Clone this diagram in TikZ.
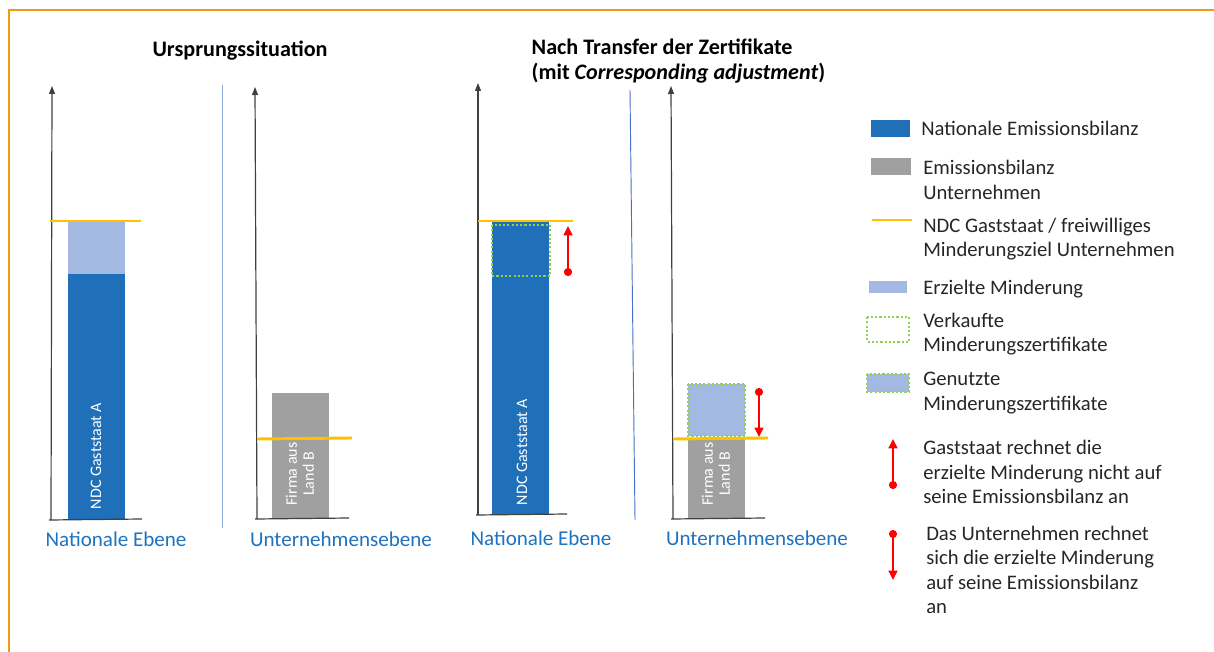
\documentclass[tikz,border=0pt]{standalone}
\usepackage{fontspec}
\setmainfont{Carlito}
\usetikzlibrary{arrows.meta}
\definecolor{nblau}{RGB}{31,112,184}
\definecolor{ugrau}{RGB}{160,160,160}
\definecolor{ndcgelb}{RGB}{255,192,0}
\definecolor{rahmen}{RGB}{240,155,20}
\definecolor{schraff}{RGB}{164,185,226}
\definecolor{zgruen}{RGB}{146,208,80}
\definecolor{achse}{RGB}{64,64,64}
\definecolor{trenn}{RGB}{68,114,196}
\definecolor{ebenetext}{RGB}{31,114,192}
\definecolor{legtext}{RGB}{38,38,38}
\tikzset{
  achsenpfeil/.style={achse, line width=0.9pt, -{Triangle[length=6pt,width=4.5pt]}},
  ndclinie/.style={ndcgelb, line width=2.2pt},
  zertrand/.style={zgruen, line width=1.6pt, dash pattern=on 1.6pt off 1.6pt},
  anrechnung/.style={red, line width=1.9pt, {Circle[length=6pt]}-{Triangle[length=7pt,width=6.5pt]}},
  balkentext/.style={white, rotate=90, align=center, font=\fontsize{12}{12.8}\selectfont},
  ebenelabel/.style={ebenetext, font=\fontsize{15.8}{18}\selectfont},
  legtxt/.style={legtext, anchor=west, align=left, inner sep=0pt, font=\fontsize{15.5}{18.4}\selectfont},
  titel/.style={font=\fontsize{16.6}{18.4}\selectfont\bfseries}
}
\begin{document}
\begin{tikzpicture}[x=0.75pt, y=-0.75pt]
\useasboundingbox (0,0) rectangle (1214,652);
% Rahmen
\draw[rahmen, line width=1.6pt] (9,652) -- (9,10) -- (1216,10);

% Titel
\node[titel] (titel1) at (240,51) {Ursprungssituation};
\node[titel, anchor=west, align=left] (titel2) at (527,61)
  {Nach Transfer der Zertifikate\\(mit \textit{Corresponding adjustment})};

% Balken
\fill[schraff] (68,221) rectangle (125,274);
\fill[nblau] (68,274) rectangle (125,520);
\fill[ugrau] (272,393) rectangle (329,519);
\fill[nblau] (492,221) rectangle (549,515);
\draw[zertrand] (492,225) rectangle (550,276);
\fill[ugrau] (688,439) rectangle (745,519);
\fill[schraff] (688,384) rectangle (745,436);
\draw[zertrand] (688,384) rectangle (745,436);

\node[balkentext] (ndcA1) at (96,456) {NDC Gaststaat A};
\node[balkentext] (ndcA2) at (522,452) {NDC Gaststaat A};
\node[balkentext] (firmaB1) at (300,474) {Firma aus\\Land B};
\node[balkentext] (firmaB2) at (716,474) {Firma aus\\Land B};

% Achsen
\foreach \xu/\xo/\yu/\yo/\xr in {51/52/520/86/142, 257/255/519/87/349, 478/478/515/83/567, 673/671/519/86/765}{
  \draw[achse, line width=0.9pt] (\xu-2,\yu) -- (\xr,\yu-1);
  \draw[achsenpfeil] (\xu,\yu) -- (\xo,\yo);
}

% NDC-Linien
\draw[ndclinie] (50,221) -- (141,221);
\draw[ndclinie] (257,439) -- (352,438);
\draw[ndclinie] (478,221) -- (573,221);
\draw[ndclinie] (673,439) -- (768,438);

% Trennlinien
\draw[trenn!60, line width=0.7pt] (222,85) -- (222,528);
\draw[trenn, line width=0.7pt] (630,90) -- (635,520);

% Anrechnung
\coordinate (p3unten) at (568,276);
\coordinate (p3oben) at (568,226);
\coordinate (p4oben) at (759,388);
\coordinate (p4unten) at (759,437);
\draw[anrechnung] (p3unten) -- (p3oben);
\draw[anrechnung] (p4oben) -- (p4unten);

% Ebenen
\foreach \n/\x/\y/\t in {1/116/539/Nationale Ebene, 2/341/539/Unternehmensebene, 3/541/538/Nationale Ebene, 4/757/538/Unternehmensebene}{
  \node[ebenelabel] (ebene\n) at (\x,\y) {\t};
}

% Legende
\fill[nblau] (871,120) rectangle (910,137);
\node[legtxt] (leg1) at (921,128) {Nationale Emissionsbilanz};
\fill[ugrau] (871,158) rectangle (911,175);
\node[legtxt] (leg2) at (923,180) {Emissionsbilanz\\Unternehmen};
\draw[ndclinie, line width=1.8pt] (872,220) -- (912,220);
\node[legtxt] (leg3) at (923,239) {NDC Gaststaat / freiwilliges\\Minderungsziel Unternehmen};
\fill[schraff] (869,281) rectangle (907,293);
\node[legtxt] (leg4) at (923,289) {Erzielte Minderung};
\draw[zertrand] (867,317) rectangle (909,342);
\node[legtxt] (leg5) at (923,334) {Verkaufte\\Minderungszertifikate};
\fill[schraff] (867,374) rectangle (909,392);
\draw[zertrand] (867,374) rectangle (909,392);
\node[legtxt] (leg6) at (923,393) {Genutzte\\Minderungszertifikate};
\coordinate (lg7unten) at (893,489);
\coordinate (lg7oben) at (893,439);
\draw[anrechnung] (lg7unten) -- (lg7oben);
\node[legtxt] (leg7) at (923,472) {Gaststaat rechnet die\\erzielte Minderung nicht auf\\seine Emissionsbilanz an};
\coordinate (lg8oben) at (893,530);
\coordinate (lg8unten) at (893,580);
\draw[anrechnung] (lg8oben) -- (lg8unten);
\node[legtxt] (leg8) at (926,570) {Das Unternehmen rechnet\\sich die erzielte Minderung\\auf seine Emissionsbilanz\\an};
\end{tikzpicture}
\end{document}
